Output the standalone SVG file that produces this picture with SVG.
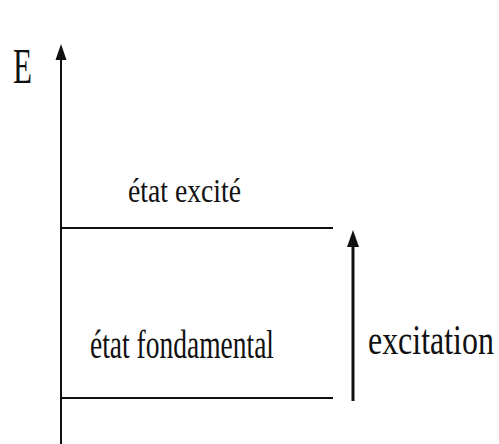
<svg xmlns="http://www.w3.org/2000/svg" width="499" height="444" viewBox="0 0 499 444">
<style>
text{font-family:"Liberation Serif","Times New Roman",serif;fill:#111}
.ln{stroke:#111;fill:none}
.ah{fill:#111}
</style>
<rect width="499" height="444" fill="#fff"/>
<g id="axis">
<line class="ln" x1="61" y1="56" x2="61" y2="444" stroke-width="2"/>
<polygon class="ah" points="61,44 66.5,60 55.5,60"/>
<text x="13" y="83" font-size="50" textLength="19" lengthAdjust="spacingAndGlyphs">E</text>
</g>
<g id="etat-excite">
<line class="ln" x1="61" y1="228" x2="333" y2="228" stroke-width="2"/>
<text x="128" y="202" font-size="34" textLength="113" lengthAdjust="spacingAndGlyphs">état excité</text>
</g>
<g id="etat-fondamental">
<line class="ln" x1="61" y1="398" x2="333" y2="398" stroke-width="2"/>
<text x="90" y="358" font-size="40" textLength="184" lengthAdjust="spacingAndGlyphs">état fondamental</text>
</g>
<g id="connectors">
<line class="ln" x1="353" y1="242" x2="353" y2="401" stroke-width="3"/>
<polygon class="ah" points="353,230 359,247 347,247"/>
</g>
<g id="excitation-label">
<text transform="translate(368,354) scale(0.76,1)" font-size="42">excitation</text>
</g>
</svg>
